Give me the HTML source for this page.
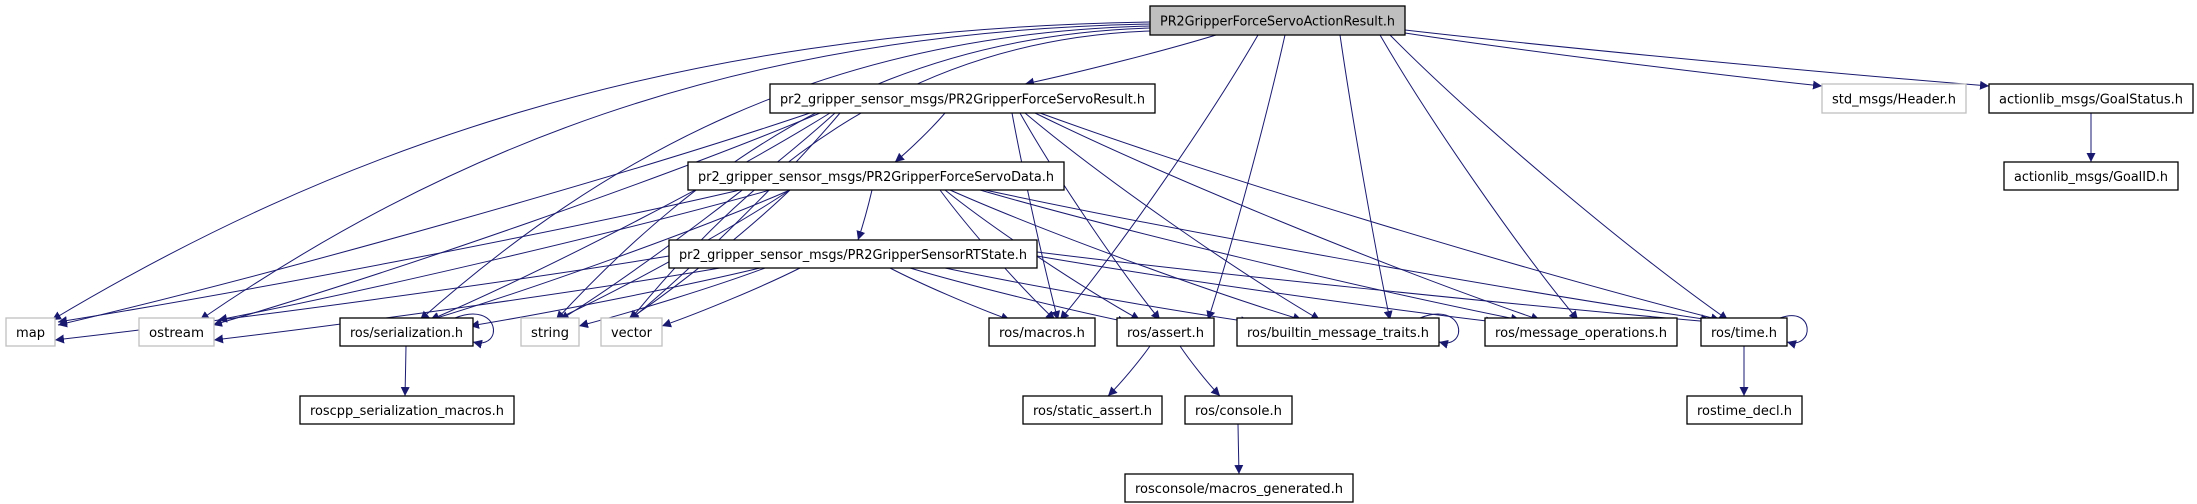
<!DOCTYPE html>
<html><head><meta charset="utf-8"><style>
html,body{margin:0;padding:0;background:#fff;width:2197px;height:504px;overflow:hidden}
svg{display:block}
text{font-family:"DejaVu Sans Condensed","Liberation Sans Narrow","Liberation Sans",sans-serif;font-size:13px;fill:#000}
</style></head><body>
<svg id="g" width="2197" height="504" viewBox="0 0 2197 504" xmlns="http://www.w3.org/2000/svg">
<defs><marker id="a" viewBox="0 0 10 10" refX="10" refY="5" markerWidth="9" markerHeight="9" markerUnits="userSpaceOnUse" orient="auto"><path d="M0,0 L10,5 L0,10 z" fill="#191970"/></marker></defs>
<g id="edges" fill="none" stroke="#191970" stroke-width="1"></g>
<g id="nodes"></g>
</svg>
<script>
const N={
AR:[1150,6,1405,35,"PR2GripperForceServoActionResult.h",1],
FR:[770,84,1155,113,"pr2_gripper_sensor_msgs/PR2GripperForceServoResult.h"],
FD:[688,162,1064,190,"pr2_gripper_sensor_msgs/PR2GripperForceServoData.h"],
RT:[669,240,1037,268,"pr2_gripper_sensor_msgs/PR2GripperSensorRTState.h"],
map:[6,318,55,346,"map",2],
os:[139,318,214,346,"ostream",2],
ser:[340,318,473,346,"ros/serialization.h"],
str:[521,318,579,346,"string",2],
vec:[601,318,662,346,"vector",2],
mac:[989,318,1095,346,"ros/macros.h"],
as:[1117,318,1214,346,"ros/assert.h"],
bt:[1237,318,1439,346,"ros/builtin_message_traits.h"],
mo:[1485,318,1677,346,"ros/message_operations.h"],
tm:[1701,318,1787,346,"ros/time.h"],
hd:[1822,84,1966,113,"std_msgs/Header.h",2],
gs:[1989,84,2193,113,"actionlib_msgs/GoalStatus.h"],
gid:[2004,162,2178,190,"actionlib_msgs/GoalID.h"],
rsm:[300,396,514,424,"roscpp_serialization_macros.h"],
sa:[1023,396,1162,424,"ros/static_assert.h"],
con:[1185,396,1292,424,"ros/console.h"],
td:[1687,396,1802,424,"rostime_decl.h"],
mg:[1125,474,1353,502,"rosconsole/macros_generated.h"]
};
const E=[
["AR",1150,22,"map",52,320],["AR",1150,24,"os",200,320],["AR",1150,26,"ser",420,320],["AR",1150,28,"str",556,320],["AR",1150,31,"vec",630,320],
["AR",1216,35,"FR",1025,84],["AR",1258,35,"mac",1060,320],["AR",1285,35,"as",1208,320],["AR",1340,35,"bt",1390,320],
["AR",1380,35,"mo",1578,320],["AR",1390,35,"tm",1728,320],["AR",1405,33,"hd",1822,86],["AR",1405,30,"gs",1989,86],
["FR",810,113,"map",58,325],["FR",820,113,"os",213,325],["FR",830,113,"ser",430,320],["FR",835,113,"str",560,320],["FR",840,113,"vec",630,320],
["FR",945,113,"FD",895,162],["FR",1012,113,"mac",1058,320],["FR",1020,113,"as",1160,320],["FR",1025,113,"bt",1320,320],
["FR",1035,113,"mo",1540,320],["FR",1040,113,"tm",1720,320],
["FD",740,190,"map",58,322],["FD",770,190,"os",218,320],["FD",790,190,"ser",430,320],["FD",790,190,"str",555,320],["FD",790,190,"vec",628,320],
["FD",872,190,"RT",858,240],["FD",940,190,"mac",1055,320],["FD",945,190,"as",1140,320],["FD",950,190,"bt",1302,320],
["FD",980,190,"mo",1520,320],["FD",985,190,"tm",1710,320],
["RT",669,256,"map",55,340],["RT",720,268,"os",214,340],["RT",760,268,"ser",470,326],["RT",765,268,"str",579,326],["RT",800,268,"vec",662,326],
["RT",890,268,"mac",1010,320],["RT",910,268,"as",1127,322],["RT",945,268,"bt",1250,322],["RT",1037,256,"mo",1495,322],["RT",1037,252,"tm",1712,322],
["ser",406,346,"rsm",405,396],["as",1150,346,"sa",1108,396],["as",1180,346,"con",1220,396],["con",1238,424,"mg",1239,474],
["tm",1744,346,"td",1744,396],["gs",2091,113,"gid",2091,162]
];
let s="";
for(const e of E){const[a,x1,y1,b,x2,y2]=e;const dx=x2-x1,dy=y2-y1;
 let c1x=x1+dx*0.25,c1y=y1+dy*0.3,c2x=x1+dx*0.7,c2y=y1+dy*0.75;
 if(x1===1150&&a==="AR"){c1x=x1-(x1-x2)*0.45;c1y=y1+8;c2x=x2+(x1-x2)*0.25;c2y=y1+dy*0.45;}
 s+=`<path d="M${x1},${y1} C${c1x},${c1y} ${c2x},${c2y} ${x2},${y2}" marker-end="url(#a)"/>`;}
s+=`<path d="M455,318 C500,300 505,350 473,342" marker-end="url(#a)"/>`;
s+=`<path d="M1420,318 C1465,300 1470,350 1439,342" marker-end="url(#a)"/>`;
s+=`<path d="M1780,318 C1815,305 1815,350 1787,342" marker-end="url(#a)"/>`;
document.getElementById("edges").innerHTML=s;
let n="";
for(const k in N){const[x1,y1,x2,y2,t,f]=N[k];const w=x2-x1,h=y2-y1;
 const fill=f===1?"#bfbfbf":"#fff",st=f===2?"#bfbfbf":"#000";
 n+=`<rect x="${x1}" y="${y1}" width="${w}" height="${h}" fill="${fill}" stroke="${st}" stroke-width="1.3"/>`;
 n+=`<text x="${(x1+x2)/2}" y="${y1+h/2+5}" text-anchor="middle" textLength="${w-20}" lengthAdjust="spacingAndGlyphs">${t}</text>`;}
document.getElementById("nodes").innerHTML=n;
</script>
</body></html>
